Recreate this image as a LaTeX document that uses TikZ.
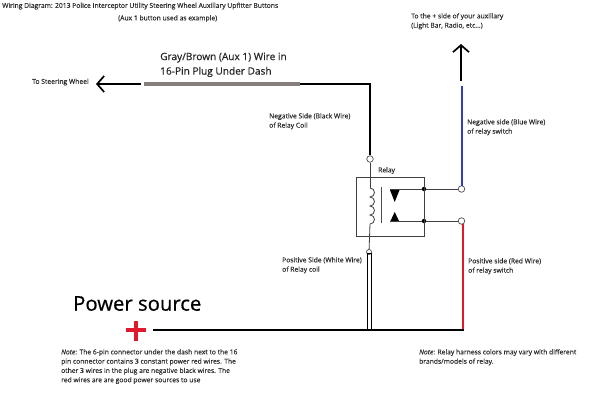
\documentclass[tikz,border=0pt]{standalone}
\usepackage{fontspec}
\setmainfont[FakeBold=0.35]{Open Sans}
\newfontfamily\medfont[FakeBold=0.6]{Open Sans}
\usetikzlibrary{arrows.meta}
\definecolor{wgray}{RGB}{134,125,125}
\definecolor{wblue}{RGB}{50,60,190}
\definecolor{wred}{RGB}{225,25,45}
\definecolor{tcol}{RGB}{45,45,45}
\tikzset{
 small/.style={font=\fontsize{6.75}{9.3}\selectfont,text=tcol,align=left,inner sep=0pt,anchor=north west},
 mid/.style={font=\medfont\fontsize{10.1}{14.5}\selectfont,text=black!85,align=left,inner sep=0pt,anchor=north west},
 wire/.style={line width=1.6pt,black},
 thinw/.style={line width=0.8pt,black!75},
 term/.style={circle,draw=black!70,fill=white,line width=0.7pt,minimum size=6.5pt,inner sep=0pt},
 dotn/.style={circle,fill=black,minimum size=4.5pt,inner sep=0pt},
 open/.style={-{Straight Barb[length=7pt,width=16pt,line width=1.7pt]}},
}
\begin{document}
\begin{tikzpicture}[x=1pt,y=-1pt]
\useasboundingbox (0,0) rectangle (600,414);
% coordinates
\coordinate (gl) at (144,84);
\coordinate (gr) at (300,84);
\coordinate (al) at (141,84);
\coordinate (at) at (96,84);
\coordinate (corner) at (370,84);
\node[term] (tc) at (370,159) {};
\node[term,minimum size=5pt] (tw) at (369,252) {};
\node[term] (tb) at (461.5,189) {};
\node[term] (tr) at (461.5,221) {};
\node[dotn] (d1) at (424,189) {};
\node[dotn] (d2) at (424,221) {};
\coordinate (ct) at (370,188);
\coordinate (cb) at (370,224);
\coordinate (ps) at (153,330);
\coordinate (pe) at (464,330);
\coordinate (ru) at (463,224);
\coordinate (rd) at (463,330);
\coordinate (bu) at (462,86);
\coordinate (bd) at (462,186);
\coordinate (au) at (461,81);
\coordinate (ad) at (461,44);
\coordinate (w1t) at (367,254);
\coordinate (w1b) at (367,330);
\coordinate (w2t) at (371.5,254);
\coordinate (w2b) at (371.5,330);
% wires
\draw[wire,open] (al) -- (at);
\draw[line width=3.4pt,wgray] (gl) -- (gr);
\draw[wire] (gr) -- (corner) -- (tc);
\draw[line width=2.2pt,wblue] (bu) -- (bd);
\draw[line width=2.2pt,wred] (ru) -- (rd);
\draw[wire,open] (au) -- (ad);
\draw[wire] (ps) -- (pe);
\draw[line width=1pt] (w1t) -- (w1b);
\draw[line width=1pt] (w2t) -- (w2b);
\draw[line width=1pt] (w1t) -- (w2t);
% relay
\draw[thinw] (356,177) rectangle (424,236);
\draw[thinw] (tc) -- (ct);
\draw[thinw] (cb) -- (tw);
\draw[thinw] (ct) arc[start angle=-90,end angle=90,radius=4.5]
  arc[start angle=-90,end angle=90,radius=4.5]
  arc[start angle=-90,end angle=90,radius=4.5]
  arc[start angle=-90,end angle=90,radius=4.5];
\draw[line width=0.9pt,black!70] (381,187) -- (381,223);
\fill[black] (390,190) -- (399.5,190) -- (394.7,202) -- cycle;
\fill[black] (390,222) -- (399.5,222) -- (394.7,212) -- cycle;
\draw[thinw] (390,189) -- (d1);
\draw[thinw] (d1) -- (tb);
\draw[thinw] (390,221) -- (d2);
\draw[thinw] (d2) -- (tr);
% plus
\draw[line width=3.4pt,wred] (136,320.5) -- (136,340.5);
\draw[line width=3.4pt,wred] (126,330) -- (146,330);
% text
\node[small] (t1) at (2,2.5) {Wiring Diagram: 2013 Police Interceptor Utility Steering Wheel Auxillary Upfitter Buttons};
\node[small] (t2) at (118,15) {(Aux 1 button used as example)};
\node[small] (t3) at (32,78.5) {To Steering Wheel};
\node[mid] (t4) at (160,52.5) {Gray/Brown (Aux 1) Wire in\\16-Pin Plug Under Dash};
\node[small] (t5) at (411,13) {To the + side of your auxillary\\(Light Bar, Radio, etc...)};
\node[small] (t6) at (269,113) {Negative Side (Black Wire)\\of Relay Coil};
\node[small] (t7) at (467,119) {Negative side (Blue Wire)\\of relay switch};
\node[small] (t8) at (378,167) {Relay};
\node[small] (t9) at (282,257) {Positive Side (White Wire)\\of Relay coil};
\node[small] (t10) at (468,258) {Positive side (Red Wire)\\of relay switch};
\node[font=\medfont\fontsize{20.3}{24}\selectfont,text=black,inner sep=0pt,anchor=north west] (t11) at (73,296) {Power source};
\node[small] (t12) at (61,349) {\textit{Note}: The 6-pin connector under the dash next to the 16\\pin connector contains 3 constant power red wires. The\\other 3 wires in the plug are negative black wires. The\\red wires are are good power sources to use};
\node[small] (t13) at (419,349) {\textit{Note}: Relay harness colors may vary with different\\brands/models of relay.};
\end{tikzpicture}
\end{document}
